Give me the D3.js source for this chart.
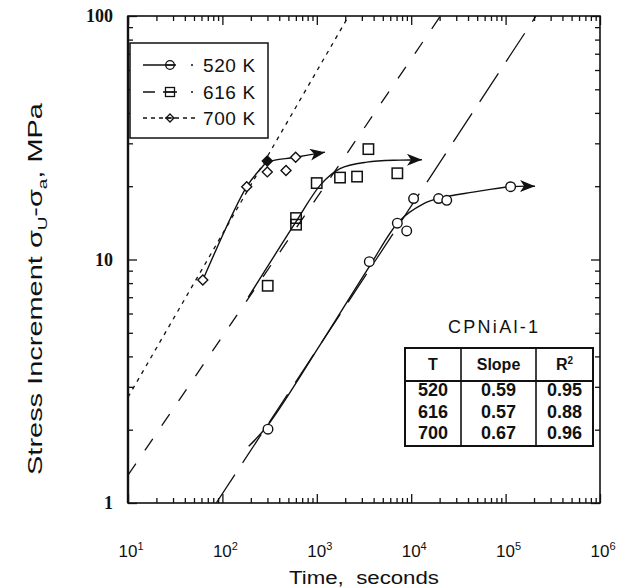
<!DOCTYPE html>
<html><head><meta charset="utf-8">
<script src="https://cdn.jsdelivr.net/npm/d3@7"></script>
<style>
html,body{margin:0;padding:0;background:#fff;}
svg{display:block;}
</style></head>
<body>
<svg id="c" width="628" height="588"></svg>
<script>
// ---------- data ----------
const seriesNames = ["520 K", "616 K", "700 K"];
// measured points [time s, stress MPa]
const pts520 = [[304,2.01],[3600,9.8],[7130,14.1],[8960,13.1],[10600,17.8],[19500,17.8],[23800,17.5],[113000,19.9]];
const pts616 = [[302,7.8],[603,14.8],[603,13.9],[998,20.6],[1762,21.7],[2670,21.9],[3520,28.4],[7130,22.6]];
const pts700 = [[62,8.24],[181,19.9],[299,25.4],[299,22.9],[472,23.2],[597,26.3]];
const filled700 = [false,false,true,false,false,false];
// hand-drawn trend curves (end with arrow)
const curve520 = [[190,1.71],[304,2.09],[1100,4.5],[3600,9.35],[7500,14.4],[13300,16.9],[20200,17.9],[45200,18.9],[113000,19.9],[205000,20.0]];
const curve616 = [[188,7.0],[603,14.3],[1100,20.3],[1762,23.6],[3400,25.1],[7600,25.6],[13000,25.7]];
const curve700 = [[62,8.24],[181,19.9],[255,23.6],[299,25.1],[597,26.3],[1222,27.6]];
// power-law fit lines, endpoints [time, stress]
const fit520 = [[86,1],[210000,100]];
const fit616 = [[10,1.30],[20400,100]];
const fit700 = [[10,2.72],[2175,100]];
// table
const tableHeader = ["T","Slope","R²"];
const tableT = ["520","616","700"];
const tableSlope = ["0.59","0.57","0.67"];
const tableR2 = ["0.95","0.88","0.96"];
const tableTitle = "CPNiAl-1";
// ticks
const xTickExps = [1,2,3,4,5,6];
const yTickLabels = ["1","10","100"];

// ---------- layout ----------
const svg = d3.select("#c");
const L=128, R=600, T=16, B=503;
const x = d3.scaleLog().domain([10,1e6]).range([L,R]);
const y = d3.scaleLog().domain([1,100]).range([B,T]);
const ink = "#111";

const defs = svg.append("defs");
defs.append("clipPath").attr("id","clip")
  .append("rect").attr("x",L).attr("y",T).attr("width",R-L).attr("height",B-T);
const arrow = defs.append("marker").attr("id","arr")
  .attr("markerUnits","userSpaceOnUse").attr("markerWidth",18).attr("markerHeight",14)
  .attr("refX",15).attr("refY",6).attr("orient","auto");
arrow.append("path").attr("d","M0,0 L15,6 L0,12 L4,6 Z").attr("fill",ink);

// ticks
const majors = [];
for (let e=1;e<=6;e++) majors.push(Math.pow(10,e));
const minorsX = [];
for (let e=1;e<6;e++) for (let k=2;k<=9;k++) minorsX.push(k*Math.pow(10,e));
const majorsY = [1,10,100];
const minorsY = [];
for (let e=0;e<2;e++) for (let k=2;k<=9;k++) minorsY.push(k*Math.pow(10,e));

function axisG(axis, tr){
  const g = svg.append("g").attr("transform",tr).call(axis);
  g.select(".domain").remove();
  g.selectAll("text").remove();
  g.selectAll("line").attr("stroke",ink).attr("stroke-width",1.3);
  return g;
}
axisG(d3.axisBottom(x).tickValues(majors).tickSize(-9), `translate(0,${B})`);
axisG(d3.axisBottom(x).tickValues(minorsX).tickSize(-5), `translate(0,${B})`);
axisG(d3.axisTop(x).tickValues(majors).tickSize(-9), `translate(0,${T})`);
axisG(d3.axisTop(x).tickValues(minorsX).tickSize(-5), `translate(0,${T})`);
axisG(d3.axisLeft(y).tickValues(majorsY).tickSize(-9), `translate(${L},0)`);
axisG(d3.axisLeft(y).tickValues(minorsY).tickSize(-5), `translate(${L},0)`);
axisG(d3.axisRight(y).tickValues(majorsY).tickSize(-9), `translate(${R},0)`);
axisG(d3.axisRight(y).tickValues(minorsY).tickSize(-5), `translate(${R},0)`);

svg.append("rect").attr("x",L).attr("y",T).attr("width",R-L).attr("height",B-T)
  .attr("fill","none").attr("stroke",ink).attr("stroke-width",1.6);
svg.append("line").attr("x1",L).attr("x2",L).attr("y1",T).attr("y2",B).attr("stroke",ink).attr("stroke-width",2.4);

// tick labels
xTickExps.forEach(e=>{
  const t = svg.append("text").attr("x",x(Math.pow(10,e))+3).attr("y",557)
    .attr("text-anchor","middle").attr("font-family","Liberation Sans, Arial, sans-serif")
    .attr("font-size",17).attr("fill",ink);
  t.append("tspan").text("10");
  t.append("tspan").attr("dy",-7).attr("font-size",11).text(e);
});
yTickLabels.forEach(s=>{
  svg.append("text").attr("x",113).attr("y",y(+s)+6).attr("text-anchor","end")
    .attr("font-family","Liberation Serif, Times New Roman, serif").attr("font-weight","bold")
    .attr("font-size",18).attr("fill",ink).text(s);
});

// axis titles
svg.append("text").attr("x",364).attr("y",584).attr("text-anchor","middle")
  .attr("font-family","Liberation Sans, Arial, sans-serif").attr("font-size",18).attr("fill",ink)
  .style("white-space","pre")
  .attr("textLength",150).attr("lengthAdjust","spacingAndGlyphs")
  .text("Time,  seconds");
const yt = svg.append("text").attr("transform","translate(42,289) rotate(-90)")
  .attr("text-anchor","middle").attr("font-family","Liberation Sans, Arial, sans-serif")
  .attr("font-size",20).attr("fill",ink).attr("textLength",372).attr("lengthAdjust","spacingAndGlyphs");
yt.append("tspan").text("Stress Increment σ");
yt.append("tspan").attr("dy",5).attr("font-size",13).text("U");
yt.append("tspan").attr("dy",-5).text("-σ");
yt.append("tspan").attr("dy",5).attr("font-size",13).text("a");
yt.append("tspan").attr("dy",-5).text(", MPa");

// fit lines
const plot = svg.append("g").attr("clip-path","url(#clip)");
const lineGen = d3.line().x(d=>x(d[0])).y(d=>y(d[1]));
const fits = [[fit520,"34,14"],[fit616,"14,16"],[fit700,"4,5"]];
fits.forEach(([f,da])=>{
  plot.append("path").attr("d",lineGen(f)).attr("fill","none").attr("stroke",ink)
    .attr("stroke-width",1.3).attr("stroke-dasharray",da);
});

// trend curves
const curveGen = d3.line().x(d=>x(d[0])).y(d=>y(d[1])).curve(d3.curveCatmullRom.alpha(0.5));
[curve520,curve616,curve700].forEach(c=>{
  svg.append("path").attr("d",curveGen(c)).attr("fill","none").attr("stroke",ink)
    .attr("stroke-width",1.4).attr("marker-end","url(#arr)");
});

// markers
const mk = {
  circle: (g,cx,cy)=>g.append("circle").attr("cx",cx).attr("cy",cy).attr("r",4.8),
  square: (g,cx,cy)=>g.append("rect").attr("x",cx-5.2).attr("y",cy-5.2).attr("width",10.4).attr("height",10.4),
  diamond:(g,cx,cy)=>g.append("path").attr("d",`M${cx},${cy-5} L${cx+5},${cy} L${cx},${cy+5} L${cx-5},${cy} Z`)
};
const mg = svg.append("g");
pts520.forEach(p=>mk.circle(mg,x(p[0]),y(p[1])).attr("fill","#fff").attr("stroke",ink).attr("stroke-width",1.4));
pts616.forEach(p=>mk.square(mg,x(p[0]),y(p[1])).attr("fill","none").attr("stroke",ink).attr("stroke-width",1.5));
pts700.forEach((p,i)=>mk.diamond(mg,x(p[0]),y(p[1])).attr("fill",filled700[i]?ink:"#fff").attr("stroke",ink).attr("stroke-width",1.4));

// legend
const lg = svg.append("g");
lg.append("rect").attr("x",130).attr("y",43).attr("width",138).attr("height",95)
  .attr("fill","#fff").attr("stroke",ink).attr("stroke-width",1.5);
const legRows = [65,92,118];
const legDash = ["33,15,2,20","12,8,14,14,2,20","4,4"];
const legShape = ["circle","square","diamond"];
seriesNames.forEach((n,i)=>{
  const ry = legRows[i];
  lg.append("line").attr("x1",143).attr("x2",199).attr("y1",ry).attr("y2",ry)
    .attr("stroke",ink).attr("stroke-width",1.3).attr("stroke-dasharray",legDash[i]);
  const s = legShape[i];
  const m = s==="circle" ? lg.append("circle").attr("cx",170).attr("cy",ry).attr("r",4.3)
    : s==="square" ? lg.append("rect").attr("x",165.5).attr("y",ry-4.5).attr("width",9).attr("height",9)
    : lg.append("path").attr("d",`M170,${ry-4} L174,${ry} L170,${ry+4} L166,${ry} Z`);
  m.attr("fill","none").attr("stroke",ink).attr("stroke-width",1.3);
  lg.append("line").attr("x1",165).attr("x2",175).attr("y1",ry).attr("y2",ry).attr("stroke",ink).attr("stroke-width",1.2);
  lg.append("text").attr("x",203).attr("y",ry+6.5).attr("font-family","Liberation Sans, Arial, sans-serif")
    .attr("font-size",19).attr("letter-spacing",0.6).attr("fill",ink).text(n);
});

// table
const tg = svg.append("g").attr("font-family","Liberation Sans, Arial, sans-serif").attr("fill",ink);
tg.append("text").attr("x",493).attr("y",333).attr("text-anchor","middle").attr("font-size",18)
  .attr("textLength",90).attr("lengthAdjust","spacing").text(tableTitle);
const tx0=405, tx1=461, tx2=536, tx3=593, ty0=348, ty1=381, ty2=446;
tg.append("rect").attr("x",tx0).attr("y",ty0).attr("width",tx3-tx0).attr("height",ty2-ty0)
  .attr("fill","#fff").attr("stroke",ink).attr("stroke-width",2);
[tx1,tx2].forEach(v=>tg.append("line").attr("x1",v).attr("x2",v).attr("y1",ty0).attr("y2",ty2).attr("stroke",ink).attr("stroke-width",1.6));
tg.append("line").attr("x1",tx0).attr("x2",tx3).attr("y1",ty1).attr("y2",ty1).attr("stroke",ink).attr("stroke-width",2);
const colC = [(tx0+tx1)/2,(tx1+tx2)/2,(tx2+tx3)/2];
tableHeader.forEach((h,i)=>{
  const t = tg.append("text").attr("x",colC[i]).attr("y",370).attr("text-anchor","middle")
    .attr("font-size",16).attr("font-weight","bold");
  if (h==="R²") { t.append("tspan").text("R"); t.append("tspan").attr("dy",-6).attr("font-size",10).text("2"); }
  else t.text(h);
});
const rowY = [396,417.5,439];
[tableT,tableSlope,tableR2].forEach((col,ci)=>{
  col.forEach((v,ri)=>{
    tg.append("text").attr("x",colC[ci]).attr("y",rowY[ri]).attr("text-anchor","middle")
      .attr("font-size",18).attr("font-weight","bold").text(v);
  });
});
</script>
</body></html>
